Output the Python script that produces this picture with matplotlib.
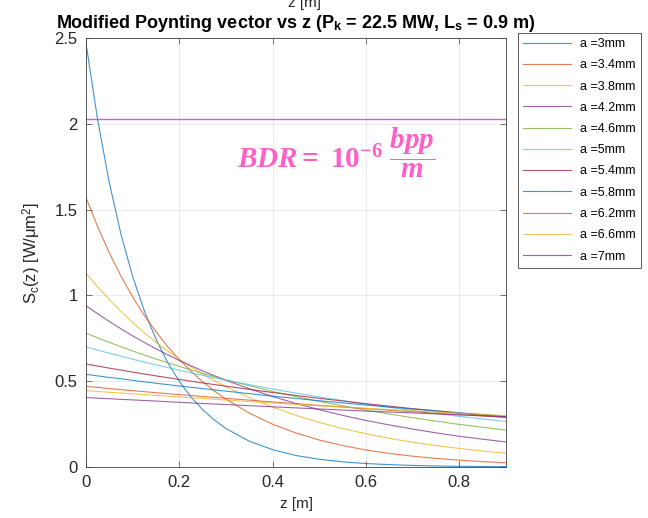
import numpy as np
import matplotlib.pyplot as plt

plt.rcParams['font.family'] = ['Liberation Sans', 'DejaVu Sans']
plt.rcParams['mathtext.fontset'] = 'custom'
plt.rcParams['mathtext.rm'] = 'Liberation Serif:bold'
plt.rcParams['mathtext.it'] = 'Liberation Serif:bold:italic'
plt.rcParams['mathtext.bf'] = 'Liberation Serif:bold'

# Данные, считанные с графика
# мелкий шаг для быстро спадающих кривых
z_fine = [0, 0.025, 0.05, 0.075, 0.1, 0.125, 0.15, 0.175, 0.2, 0.225, 0.25, 0.275, 0.3,
          0.35, 0.4, 0.45, 0.5, 0.55, 0.6, 0.65, 0.7, 0.75, 0.8, 0.85, 0.9]
z = [0, 0.025, 0.05, 0.075, 0.1, 0.15, 0.2, 0.25, 0.3, 0.4, 0.5, 0.6, 0.7, 0.8, 0.9]

labels = ["a =3mm", "a =3.4mm", "a =3.8mm", "a =4.2mm", "a =4.6mm", "a =5mm",
          "a =5.4mm", "a =5.8mm", "a =6.2mm", "a =6.6mm", "a =7mm"]

s_3_0 = [2.47, 2.022, 1.656, 1.356, 1.110, 0.909, 0.744, 0.609, 0.499, 0.408, 0.334, 0.274, 0.224,
         0.150, 0.101, 0.067, 0.045, 0.030, 0.020, 0.014, 0.009, 0.006, 0.004, 0.003, 0.002]
s_3_4 = [1.57, 1.400, 1.247, 1.112, 0.991, 0.883, 0.788, 0.702, 0.626, 0.558, 0.497, 0.443, 0.395,
         0.314, 0.249, 0.198, 0.157, 0.125, 0.099, 0.079, 0.063, 0.050, 0.040, 0.031, 0.025]
s_3_8 = [1.13, 1.050, 0.976, 0.906, 0.842, 0.782, 0.727, 0.676, 0.628, 0.583, 0.542, 0.503, 0.468,
         0.404, 0.349, 0.301, 0.260, 0.224, 0.194, 0.167, 0.144, 0.125, 0.108, 0.093, 0.080]
s_4_2 = [0.94, 0.893, 0.848, 0.805, 0.764, 0.726, 0.689, 0.654, 0.621, 0.590, 0.560, 0.532, 0.505,
         0.456, 0.411, 0.370, 0.334, 0.301, 0.271, 0.245, 0.221, 0.199, 0.179, 0.162, 0.146]
s_4_6 = [0.78, 0.753, 0.726, 0.701, 0.676, 0.629, 0.586, 0.546, 0.508, 0.440, 0.382, 0.331, 0.287, 0.248, 0.215]
s_5_0 = [0.70, 0.681, 0.663, 0.646, 0.628, 0.595, 0.564, 0.534, 0.506, 0.454, 0.408, 0.366, 0.329, 0.295, 0.265]
s_5_4 = [0.60, 0.588, 0.576, 0.565, 0.553, 0.531, 0.510, 0.490, 0.471, 0.434, 0.400, 0.369, 0.340, 0.314, 0.289]
s_5_8 = [0.54, 0.531, 0.522, 0.514, 0.505, 0.488, 0.472, 0.457, 0.442, 0.413, 0.386, 0.361, 0.338, 0.316, 0.295]
s_6_2 = [0.47, 0.464, 0.457, 0.451, 0.445, 0.433, 0.422, 0.411, 0.400, 0.379, 0.359, 0.340, 0.322, 0.305, 0.289]
s_6_6 = [0.445, 0.440, 0.435, 0.431, 0.426, 0.417, 0.408, 0.399, 0.390, 0.373, 0.357, 0.342, 0.327, 0.313, 0.299]
s_7_0 = [0.405, 0.401, 0.398, 0.394, 0.391, 0.384, 0.377, 0.370, 0.364, 0.351, 0.338, 0.326, 0.315, 0.304, 0.293]

series = [(z_fine, s_3_0), (z_fine, s_3_4), (z_fine, s_3_8), (z_fine, s_4_2),
          (z, s_4_6), (z, s_5_0), (z, s_5_4), (z, s_5_8), (z, s_6_2), (z, s_6_6), (z, s_7_0)]

BDR_LEVEL = 2.03

# цвета MATLAB по умолчанию
colors = ["#0072BD", "#D95319", "#EDB120", "#7E2F8E", "#77AC30",
          "#4DBEEE", "#A2142F"]

fig = plt.figure(figsize=(6.48, 5.18), dpi=100)
ax = fig.add_axes([86 / 648, 51 / 518, 420 / 648, 429 / 518])

for i, ((zz, s), lab) in enumerate(zip(series, labels)):
    ax.plot(zz, s, color=colors[i % len(colors)], linewidth=0.8, alpha=0.75, label=lab)

ax.axhline(BDR_LEVEL, color="#D040D0", linewidth=1.0, alpha=0.85)

ax.set_xlim(0, 0.9)
ax.set_ylim(0, 2.5)
ax.set_xticks([0, 0.2, 0.4, 0.6, 0.8])
ax.set_xticklabels(["0", "0.2", "0.4", "0.6", "0.8"])
ax.set_yticks([0, 0.5, 1, 1.5, 2, 2.5])
ax.set_yticklabels(["0", "0.5", "1", "1.5", "2", "2.5"])
ax.tick_params(direction='in', top=True, right=True, labelsize=12, pad=6,
               colors="#404040", labelcolor="#262626", length=4, width=0.5)
ax.grid(True, color="#e6e6e6", linewidth=0.6)
for sp in ax.spines.values():
    sp.set_color("#404040")
    sp.set_linewidth(0.6)

ax.set_xlabel("z [m]", fontsize=11, color="#262626", labelpad=5)
ax.set_ylabel(r"S$_\mathregular{c}$(z) [W/μm$^\mathregular{2}$]", fontsize=12,
              color="#262626", labelpad=8)
ax.set_title(r"Modified Poynting vector vs z (P$_\mathregular{k}$ = 22.5 MW, L$_\mathregular{s}$ = 0.9 m)",
             fontsize=13, fontweight='bold', pad=7)

fig.text(304 / 648, 1 - 3 / 518, "z [m]", fontsize=11, ha='center', va='center',
         color="#262626")

ax.text(0.536, 1.83, r"$BDR=\ 10^{-6}\ \dfrac{bpp}{m}$", fontsize=21,
        color="#FF5FC8", ha='center', va='center')

leg = ax.legend(loc='upper left', bbox_to_anchor=(1 + 12 / 420, 1 + 5 / 429),
                borderaxespad=0, fontsize=9, handlelength=3.8, labelspacing=0.74,
                fancybox=False, framealpha=1, edgecolor="#404040")
leg.get_frame().set_linewidth(0.6)

fig.savefig("out.png", dpi=100)
